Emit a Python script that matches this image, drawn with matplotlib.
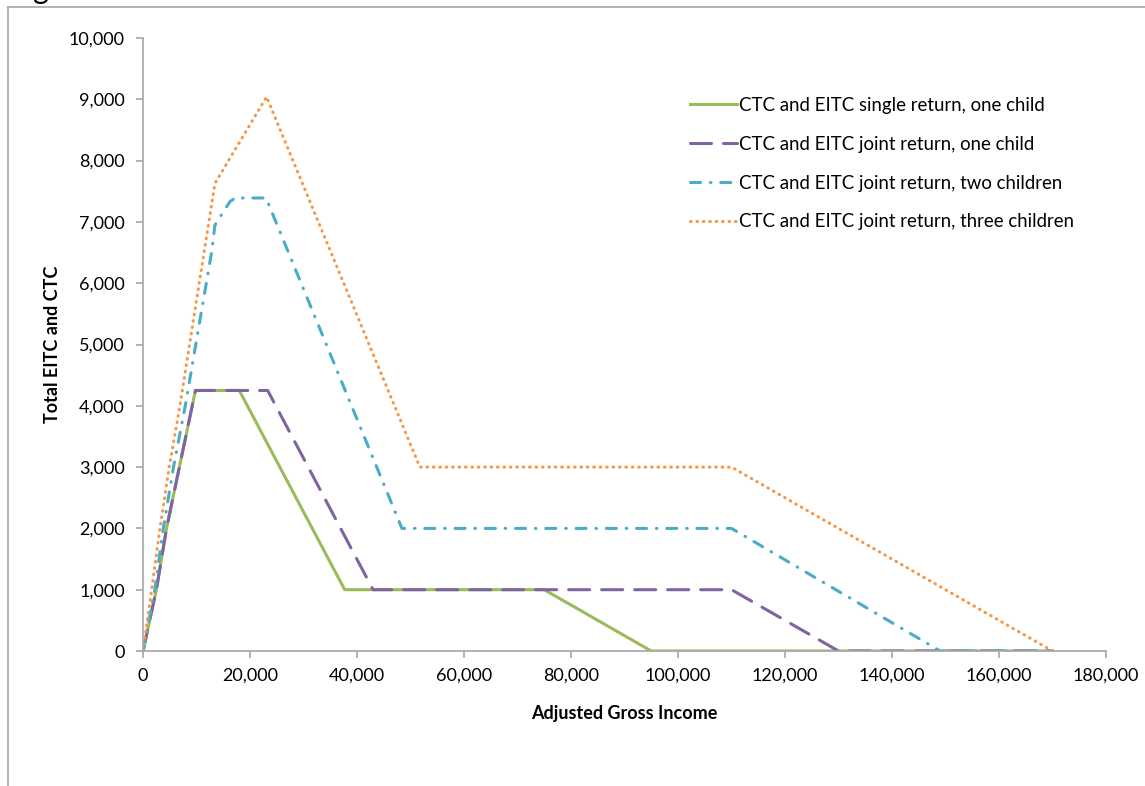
import matplotlib
matplotlib.use("Agg")
import matplotlib.pyplot as plt
from matplotlib.lines import Line2D
from matplotlib.ticker import FuncFormatter, MultipleLocator

# ---- data ----
labels = [
    "CTC and EITC single return, one child",
    "CTC and EITC joint return, one child",
    "CTC and EITC joint return, two children",
    "CTC and EITC joint return, three children",
]
single_one_x = [0, 2500, 4400, 9800, 18000, 37700, 75000, 95000, 170000]
single_one_y = [0, 1000, 2000, 4250, 4250, 1000, 1000, 0, 0]
joint_one_x = [0, 2500, 4400, 9800, 23300, 43000, 110000, 130000, 170000]
joint_one_y = [0, 1000, 2000, 4250, 4250, 1000, 1000, 0, 0]
joint_two_x = [0, 2200, 3800, 5700, 7900, 12830, 13450, 16250, 17200, 23000, 48400, 110000, 149000, 170000]
joint_two_y = [0, 1000, 2000, 3000, 4000, 6510, 6950, 7330, 7390, 7390, 2000, 2000, 0, 0]
joint_three_x = [0, 1620, 3170, 4900, 6900, 10650, 13450, 23100, 51750, 110000, 170000]
joint_three_y = [0, 1000, 2000, 3000, 4000, 6080, 7630, 9040, 3000, 3000, 0]

x_label = "Adjusted Gross Income"
y_label = "Total EITC and CTC"

plt.rcParams['font.family'] = ['Lato', 'DejaVu Sans']

W, H = 1145, 786
fig = plt.figure(figsize=(W / 100, H / 100), dpi=100)
ax = fig.add_axes([143 / W, 1 - 651 / H, (1106 - 143) / W, (651 - 38) / H])

lw = 2.2
ax.plot(single_one_x, single_one_y, color="#9BBB59", lw=lw, label=labels[0],
        solid_joinstyle="round")
ax.plot(joint_one_x, joint_one_y, color="#8064A2", lw=lw, label=labels[1],
        dashes=(6.9, 3.9), dash_capstyle="round", dash_joinstyle="round")
ax.plot(joint_two_x, joint_two_y, color="#4BACC6", lw=lw, label=labels[2],
        dashes=(3.3, 3.2, 0.2, 3.2), dash_capstyle="round", dash_joinstyle="round")
ax.plot(joint_three_x, joint_three_y, color="#F79646", lw=lw, label=labels[3],
        dashes=(0.2, 1.9), dash_capstyle="round")

ax.set_xlim(0, 180000)
ax.set_ylim(0, 10000)
ax.xaxis.set_major_locator(MultipleLocator(20000))
ax.yaxis.set_major_locator(MultipleLocator(1000))
fmt = FuncFormatter(lambda v, p: f"{int(v):,}")
ax.xaxis.set_major_formatter(fmt)
ax.yaxis.set_major_formatter(fmt)

for s in ["top", "right"]:
    ax.spines[s].set_visible(False)
for s in ["left", "bottom"]:
    ax.spines[s].set_color("#A6A6A6")
    ax.spines[s].set_linewidth(1.2)
ax.tick_params(axis="both", direction="out", length=5, width=1.2, color="#A6A6A6",
               labelsize=13, labelcolor="black")
ax.tick_params(axis="x", pad=7)
ax.tick_params(axis="y", pad=8)

ax.set_xlabel(x_label, fontsize=13, fontweight="bold", labelpad=15)
ax.set_ylabel(y_label, fontsize=13, fontweight="bold", labelpad=6)

leg = ax.legend(loc="upper left", bbox_to_anchor=(690 / W, 1 - 97 / H),
                bbox_transform=fig.transFigure, frameon=False, fontsize=13.4,
                handlelength=2.55, handletextpad=0.1, labelspacing=1.17,
                borderpad=0, borderaxespad=0)

# outer frame of the original page
fig.add_artist(Line2D([8 / W, 8 / W], [0, 1 - 7 / H], transform=fig.transFigure,
                      color="#A6A6A6", lw=1.2))
fig.add_artist(Line2D([8 / W, 1], [1 - 7 / H, 1 - 7 / H], transform=fig.transFigure,
                      color="#A6A6A6", lw=1.2))
fig.text(33 / W, 1 + 1 / H, "g", fontsize=22, va="baseline", ha="left")

fig.savefig("out.png", dpi=100)
